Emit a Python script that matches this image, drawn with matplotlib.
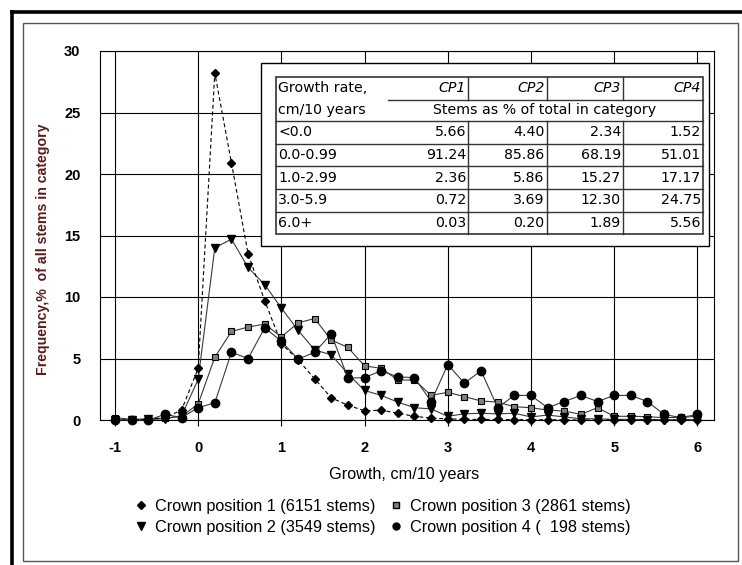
import matplotlib
matplotlib.use('Agg')
import matplotlib.pyplot as plt
from matplotlib.lines import Line2D
from matplotlib.patches import Rectangle

plt.rcParams['axes.unicode_minus'] = False

# growth classes, cm/10 years
growth = [-1.0, -0.8, -0.6, -0.4, -0.2, 0.0, 0.2, 0.4, 0.6, 0.8,
          1.0, 1.2, 1.4, 1.6, 1.8, 2.0, 2.2, 2.4, 2.6, 2.8,
          3.0, 3.2, 3.4, 3.6, 3.8, 4.0, 4.2, 4.4, 4.6, 4.8,
          5.0, 5.2, 5.4, 5.6, 5.8, 6.0]

cp1 = [0.0, 0.0, 0.05, 0.2, 0.8, 4.2, 28.2, 20.9, 13.5, 9.7,
       6.2, 4.9, 3.35, 1.8, 1.2, 0.75, 0.8, 0.55, 0.3, 0.15,
       0.1, 0.05, 0.05, 0.05, 0.03, 0.02, 0.02, 0.01, 0.0, 0.0,
       0.0, 0.0, 0.0, 0.0, 0.0, 0.0]
cp2 = [0.0, 0.0, 0.05, 0.1, 0.35, 3.3, 14.0, 14.7, 12.4, 11.0,
       9.1, 7.3, 5.7, 5.3, 3.75, 2.4, 2.0, 1.45, 1.0, 0.9,
       0.3, 0.5, 0.55, 0.5, 0.55, 0.25, 0.4, 0.25, 0.1, 0.1,
       0.05, 0.05, 0.03, 0.03, 0.0, 0.03]
cp3 = [0.2, 0.05, 0.1, 0.15, 0.3, 1.3, 5.1, 7.2, 7.55, 7.8,
       6.75, 7.9, 8.25, 6.5, 5.9, 4.4, 4.2, 3.25, 3.25, 2.0,
       2.25, 1.9, 1.55, 1.45, 1.08, 1.0, 0.8, 0.73, 0.46, 1.0,
       0.3, 0.3, 0.27, 0.19, 0.22, 0.3]
cp4 = [0.0, 0.0, 0.0, 0.45, 0.2, 1.0, 1.4, 5.5, 5.0, 7.5,
       6.4, 4.95, 5.5, 7.0, 3.4, 3.45, 4.0, 3.5, 3.45, 1.5,
       4.5, 3.0, 4.0, 1.0, 2.0, 2.0, 1.0, 1.5, 2.0, 1.5,
       2.0, 2.0, 1.5, 0.45, 0.2, 0.45]

labels = ['Crown position 1 (6151 stems)', 'Crown position 2 (3549 stems)',
          'Crown position 3 (2861 stems)', 'Crown position 4 (  198 stems)']

# inset table
tab_cols = ['CP1', 'CP2', 'CP3', 'CP4']
tab_rows = ['<0.0', '0.0-0.99', '1.0-2.99', '3.0-5.9', '6.0+']
tab_vals = [['5.66', '4.40', '2.34', '1.52'],
            ['91.24', '85.86', '68.19', '51.01'],
            ['2.36', '5.86', '15.27', '17.17'],
            ['0.72', '3.69', '12.30', '24.75'],
            ['0.03', '0.20', '1.89', '5.56']]

W, H = 742, 565
fig = plt.figure(figsize=(W / 100, H / 100), dpi=100)
fig.patch.set_facecolor('white')

ax = fig.add_axes([100 / W, 1 - 420 / H, 614 / W, 369 / H])
ax.set_xlim(-1.18, 6.2)
ax.set_ylim(0, 30)
ax.set_xticks(range(-1, 7))
ax.set_yticks(range(0, 31, 5))
ax.grid(True, color='black', linewidth=0.8)
ax.set_axisbelow(True)
for s in ax.spines.values():
    s.set_color('black')
    s.set_linewidth(0.8)
ax.tick_params(axis='x', length=4, width=0.8, pad=11, direction='out')
ax.tick_params(axis='y', length=0, pad=14)
for t in ax.get_xticklabels() + ax.get_yticklabels():
    t.set_fontfamily('Liberation Sans')
    t.set_fontweight('bold')
    t.set_fontsize(10.5)

lc = '#3a3a3a'
ax.plot(growth, cp1, linestyle=(0, (3.5, 2.5)), color='black', linewidth=0.8,
        marker='D', markersize=4.2, markerfacecolor='black', markeredgecolor='black', clip_on=False, zorder=5)
ax.plot(growth, cp2, linestyle='-', color=lc, linewidth=0.8,
        marker='v', markersize=6, markerfacecolor='black', markeredgecolor='black', clip_on=False, zorder=4)
ax.plot(growth, cp3, linestyle='-', color=lc, linewidth=0.8,
        marker='s', markersize=5, markerfacecolor='#7f7f7f', markeredgecolor='black', markeredgewidth=0.8, clip_on=False, zorder=3)
ax.plot(growth, cp4, linestyle='-', color=lc, linewidth=0.8,
        marker='o', markersize=6, markerfacecolor='black', markeredgecolor='black', clip_on=False, zorder=4)

fig.text(404 / W, 1 - 474 / H, 'Growth, cm/10 years', ha='center', va='center',
         fontfamily='Liberation Sans', fontsize=11.7)
fig.text(43.5 / W, 1 - 249 / H, 'Frequency,%  of all stems in category', rotation=90,
         ha='center', va='center', fontfamily='Liberation Sans', fontweight='bold',
         fontsize=10.2, color='#5a1e1e')

handles = [Line2D([], [], linestyle='none', marker='D', markersize=4, color='black'),
           Line2D([], [], linestyle='none', marker='v', markersize=6, color='black'),
           Line2D([], [], linestyle='none', marker='s', markersize=5, markerfacecolor='#7f7f7f', markeredgecolor='black'),
           Line2D([], [], linestyle='none', marker='o', markersize=5, color='black')]
fig.legend(handles, labels, ncol=2, loc='center', bbox_to_anchor=(383 / W, 1 - 517 / H),
           frameon=False, prop={'family': 'Liberation Sans', 'size': 11.7},
           handlelength=0.7, handletextpad=0.5, columnspacing=0.9, labelspacing=0.35,
           borderpad=0)

# overlay in pixel coordinates for frames and inset table
ov = fig.add_axes([0, 0, 1, 1], zorder=10)
ov.set_xlim(0, W)
ov.set_ylim(H, 0)
ov.axis('off')
ov.patch.set_visible(False)

ov.plot([10, W], [11.5, 11.5], color='black', linewidth=2.6, solid_capstyle='butt')
ov.plot([11.5, 11.5], [10, H], color='black', linewidth=2.6, solid_capstyle='butt')
ov.add_patch(Rectangle((23, 23), 715, 538, fill=False, edgecolor='#555555', linewidth=1))

# table box
ov.add_patch(Rectangle((261, 63), 448, 183, facecolor='white', edgecolor='black', linewidth=1))
tl, tr, tt, tb = 276, 703, 77, 234
row_y = [77, 99.5, 121, 143.5, 166, 189, 211.5, 234]
col_x = [276, 468, 546.5, 623, 703]
gc = '#333333'
ov.add_patch(Rectangle((tl, tt), tr - tl, tb - tt, fill=False, edgecolor=gc, linewidth=1.2))
ov.plot([388, tr], [row_y[1], row_y[1]], color=gc, linewidth=1)
for y in row_y[2:-1]:
    ov.plot([tl, tr], [y, y], color=gc, linewidth=1)
for x in col_x[1:-1]:
    ov.plot([x, x], [row_y[0], row_y[1]], color=gc, linewidth=1)
    ov.plot([x, x], [row_y[2], tb], color=gc, linewidth=1)

tf = {'family': 'DejaVu Sans', 'size': 10.2}
ov.text(278, (row_y[0] + row_y[1]) / 2, 'Growth rate,', ha='left', va='center', fontdict=tf)
ov.text(278, (row_y[1] + row_y[2]) / 2, 'cm/10 years', ha='left', va='center', fontdict=tf)
for j, c in enumerate(tab_cols):
    ov.text(col_x[j + 1] - 2, (row_y[0] + row_y[1]) / 2, c, ha='right', va='center',
            fontdict=tf, style='italic')
ov.text(545, (row_y[1] + row_y[2]) / 2, 'Stems as % of total in category', ha='center', va='center', fontdict=tf)
for i, r in enumerate(tab_rows):
    yc = (row_y[i + 2] + row_y[i + 3]) / 2
    ov.text(278, yc, r, ha='left', va='center', fontdict=tf)
    for j, v in enumerate(tab_vals[i]):
        ov.text(col_x[j + 1] - 2, yc, v, ha='right', va='center', fontdict=tf)

fig.savefig('out.png', dpi=100)
